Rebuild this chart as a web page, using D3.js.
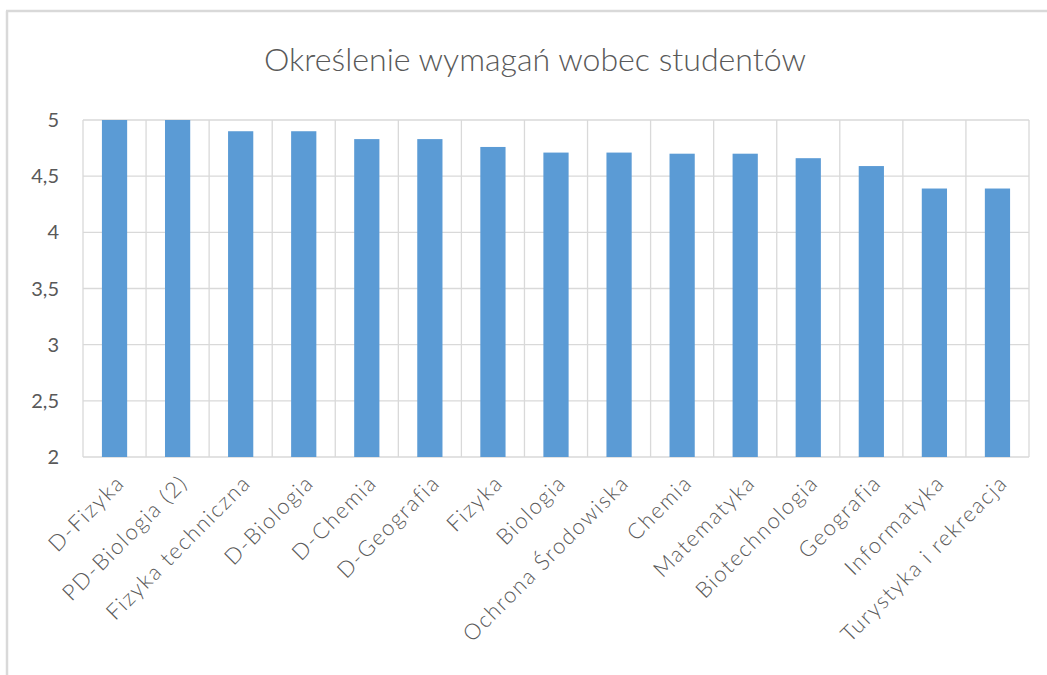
<!DOCTYPE html>
<html lang="pl">
<head>
<meta charset="UTF-8">
<title>Określenie wymagań wobec studentów</title>
<script src="https://d3js.org/d3.v7.min.js"></script>
<style>
  body { margin: 0; background: #fff; }
  text { font-family: Lato, "Open Sans", sans-serif; fill: #595959; }
</style>
</head>
<body>
<div id="chart"></div>
<script>
// data
const kierunki = ["D-Fizyka", "PD-Biologia (2)", "Fizyka techniczna", "D-Biologia", "D-Chemia",
  "D-Geografia", "Fizyka", "Biologia", "Ochrona Środowiska", "Chemia", "Matematyka",
  "Biotechnologia", "Geografia", "Informatyka", "Turystyka i rekreacja"];
const oceny = [5, 5, 4.9, 4.9, 4.83, 4.83, 4.76, 4.71, 4.71, 4.7, 4.7, 4.66, 4.59, 4.39, 4.39];
const yTicks = [2, 2.5, 3, 3.5, 4, 4.5, 5];
const title = "Określenie wymagań wobec studentów";

let W = 1047, H = 675;
let plot = {left: 83, right: 1029, top: 120, bottom: 457};

var svg = d3.select("#chart").append("svg")
    .attr("width", W)
    .attr("height", H);

// chart frame (only top and left edges are visible in the picture)
svg.append("line").attr("x1", 6).attr("x2", W).attr("y1", 11).attr("y2", 11)
    .attr("stroke", "#d9d9d9").attr("stroke-width", 2.5);
svg.append("line").attr("x1", 7).attr("x2", 7).attr("y1", 11).attr("y2", H)
    .attr("stroke", "#d9d9d9").attr("stroke-width", 2.5);

// title
svg.append("text")
    .attr("x", 535)
    .attr("y", 71)
    .attr("text-anchor", "middle")
    .style("font-size", "32px")
    .style("font-weight", 300)
    .attr("textLength", 542)
    .attr("lengthAdjust", "spacingAndGlyphs")
    .text(title);

var x = d3.scaleBand()
    .domain(kierunki)
    .range([plot.left, plot.right])
    .paddingInner(0.6)
    .paddingOuter(0.3);

var y = d3.scaleLinear()
    .domain([2, 5])
    .range([plot.bottom, plot.top]);

// horizontal gridlines
svg.append("g")
    .selectAll("line")
    .data(yTicks)
    .enter()
    .append("line")
    .attr("x1", plot.left).attr("x2", plot.right)
    .attr("y1", d => y(d)).attr("y2", d => y(d))
    .attr("stroke", "#d9d9d9").attr("stroke-width", 1.3);

// vertical gridlines between categories
let step = x.step();
let bounds = d3.range(kierunki.length + 1).map(i => plot.left + i * step);
svg.append("g")
    .selectAll("line")
    .data(bounds)
    .enter()
    .append("line")
    .attr("x1", d => d).attr("x2", d => d)
    .attr("y1", plot.top).attr("y2", plot.bottom)
    .attr("stroke", "#d9d9d9").attr("stroke-width", 1.3);

// bars
svg.append("g")
    .selectAll("rect")
    .data(oceny)
    .enter()
    .append("rect")
    .attr("x", (d, i) => x(kierunki[i]))
    .attr("y", d => y(d))
    .attr("width", x.bandwidth())
    .attr("height", d => y(2) - y(d))
    .style("fill", "#5b9bd5");

// y axis labels
svg.append("g")
    .selectAll("text")
    .data(yTicks)
    .enter()
    .append("text")
    .attr("x", 59)
    .attr("y", d => y(d))
    .attr("dy", "0.35em")
    .attr("text-anchor", "end")
    .style("font-size", "20px")
    .text(d => String(d).replace(".", ","));

// category labels, rotated
svg.append("g")
    .selectAll("text")
    .data(kierunki)
    .enter()
    .append("text")
    .attr("text-anchor", "end")
    .attr("transform", d => "translate(" + (x(d) + x.bandwidth() / 2 + 6) + "," + (plot.bottom + 22) + ") rotate(-45)")
    .attr("dy", "0.35em")
    .style("font-size", "22px")
    .style("font-weight", 300)
    .style("letter-spacing", "1.6px")
    .text(d => d);
</script>
</body>
</html>
